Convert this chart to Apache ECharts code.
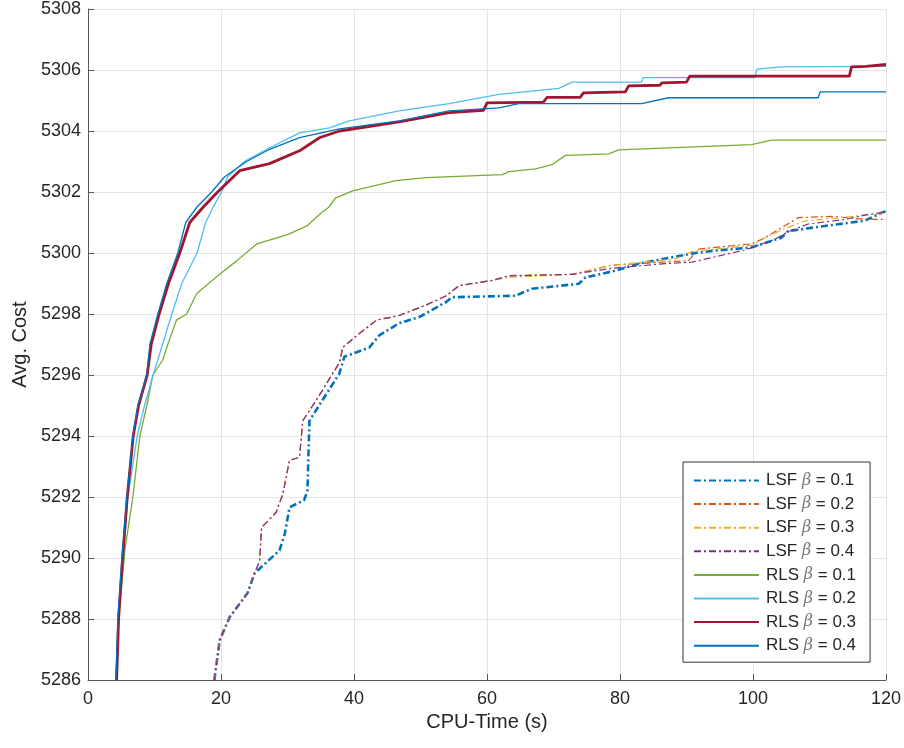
<!DOCTYPE html>
<html>
<head>
<meta charset="utf-8">
<script src="https://cdn.jsdelivr.net/npm/echarts@6/dist/echarts.min.js"></script>
<style>html,body{margin:0;padding:0;background:#fff}#c{width:904px;height:748px}</style>
</head>
<body>
<div id="c"></div>
<script>
// ---- Data ----
const seriesNames = ['LSF β = 0.1','LSF β = 0.2','LSF β = 0.3','LSF β = 0.4','RLS β = 0.1','RLS β = 0.2','RLS β = 0.3','RLS β = 0.4'];
const xTicks = [0,20,40,60,80,100,120];
const yTicks = [5286,5288,5290,5292,5294,5296,5298,5300,5302,5304,5306,5308];

const lsf1X = [19.0,19.8,21.3,24.0,25.05,28.8,29.6,30.3,32.5,33.0,33.3,37.8,38.55,42.3,43.8,46.8,49.8,52.3,53.9,54.75,64.3,66.75,73.8,74.8,79.3,82.8,90.75,94.3,99.75,104.25,105.3,111.3,116.8,120];
const lsf1Y = [5286,5287.3,5288.06,5288.85,5289.5,5290.25,5290.8,5291.66,5291.9,5292.2,5294.5,5296.05,5296.6,5296.9,5297.3,5297.7,5297.9,5298.2,5298.4,5298.55,5298.6,5298.83,5298.99,5299.2,5299.42,5299.65,5299.98,5300.08,5300.18,5300.5,5300.72,5300.9,5301.06,5301.38];

const lsf2X = [19.0,19.8,21.3,24.0,25.05,25.8,26.1,28.3,29.3,30.3,31.8,32.3,34.4,37.8,38.3,40.8,43.4,46.8,50.9,53.9,55.8,60.8,63.3,72.8,78.8,90.3,91.8,99.8,101.8,104.3,106.8,111.8,117,120];
const lsf2Y = [5286,5287.3,5288.06,5288.85,5289.5,5289.9,5291.0,5291.5,5292.1,5293.2,5293.3,5294.5,5295.2,5296.4,5296.9,5297.36,5297.8,5297.95,5298.3,5298.6,5298.93,5299.1,5299.26,5299.3,5299.6,5299.75,5300.13,5300.3,5300.5,5300.83,5301.16,5301.2,5301.1,5301.1];

const lsf3X = [19.0,19.8,21.3,24.0,25.05,25.8,26.1,28.3,29.3,30.3,31.8,32.3,34.4,37.8,38.3,40.8,43.4,46.8,50.9,53.9,55.8,60.8,63.3,72.8,78.8,88.3,90.8,99.8,102.3,104.8,107.8,112.8,117,120];
const lsf3Y = [5286,5287.3,5288.06,5288.85,5289.5,5289.9,5291.0,5291.5,5292.1,5293.2,5293.3,5294.5,5295.2,5296.4,5296.9,5297.36,5297.8,5297.95,5298.3,5298.6,5298.93,5299.1,5299.2,5299.3,5299.6,5299.8,5300.05,5300.25,5300.55,5300.8,5301.05,5301.15,5301.25,5301.3];

const lsf4X = [19.0,19.8,21.3,24.0,25.05,25.8,26.1,28.3,29.3,30.3,31.8,32.3,34.4,37.8,38.3,40.8,43.4,46.8,50.9,53.9,55.8,60.8,63.3,72.8,78.8,86.8,90.8,98.8,103.3,105.3,108.3,113.8,117,120];
const lsf4Y = [5286,5287.3,5288.06,5288.85,5289.5,5289.9,5291.0,5291.5,5292.1,5293.2,5293.3,5294.5,5295.2,5296.4,5296.9,5297.36,5297.8,5297.95,5298.3,5298.6,5298.93,5299.1,5299.25,5299.3,5299.5,5299.65,5299.7,5300.1,5300.45,5300.7,5300.95,5301.1,5301.25,5301.35];

const rls1X = [4.2,4.6,5.6,6.75,7.8,8.85,9.75,11.25,12.0,13.3,14.85,16.35,19.8,22.4,25.4,30.0,33.0,35.0,36.2,37.2,39.8,46.3,50.8,62.3,63.3,67.3,69.8,71.8,78.3,79.8,99.8,102.8,120];
const rls1Y = [5286,5288,5290.35,5292,5294,5295,5296,5296.5,5297,5297.8,5298.0,5298.67,5299.3,5299.75,5300.3,5300.6,5300.9,5301.3,5301.5,5301.8,5302.04,5302.37,5302.47,5302.57,5302.67,5302.76,5302.9,5303.2,5303.25,5303.38,5303.55,5303.7,5303.7];

const rls2X = [4.2,4.6,5.3,6.0,7.4,8.5,9.8,11.2,12.6,14.1,16.4,17.7,18.8,20.1,21.0,23.5,27.3,31.8,36.3,39.3,46.8,54.3,61.8,70.8,72.8,83.2,83.5,100.3,100.6,104.3,120];
const rls2Y = [5286,5288,5290,5292,5294,5295,5296,5297,5298,5299,5300,5301,5301.5,5302,5302.5,5303,5303.45,5303.94,5304.1,5304.33,5304.66,5304.9,5305.2,5305.4,5305.6,5305.6,5305.75,5305.75,5306.03,5306.1,5306.12];

const rls3X = [4.3,4.6,5.2,5.9,6.8,7.6,8.9,9.5,10.7,12.1,13.8,15.3,17.3,19.5,22.8,27.3,31.8,34.8,37.8,46.8,54.3,59.5,60.0,68.5,69.0,74.0,74.5,80.8,81.3,86.0,86.3,90.0,90.5,114.5,114.8,117,120];
const rls3Y = [5286,5288,5290,5292,5294,5295,5296,5297,5298,5299,5300,5301,5301.5,5302,5302.7,5302.93,5303.35,5303.78,5304.0,5304.3,5304.6,5304.68,5304.92,5304.95,5305.1,5305.1,5305.25,5305.28,5305.48,5305.5,5305.58,5305.6,5305.8,5305.8,5306.1,5306.12,5306.18];

const rls4X = [4.2,4.5,5.1,5.85,6.75,7.5,8.85,9.3,10.5,11.85,13.5,14.7,16.35,18.6,20.55,23.85,27.3,31.8,37.8,46.8,54.3,61.8,64.8,83.25,87.3,109.8,110.1,120];
const rls4Y = [5286,5288.06,5290,5292,5294,5295,5296,5297,5298,5299,5300,5301,5301.5,5302,5302.5,5303,5303.4,5303.78,5304.07,5304.33,5304.66,5304.76,5304.9,5304.9,5305.09,5305.09,5305.28,5305.28];

// ---- Build ----
const allX = [lsf1X,lsf2X,lsf3X,lsf4X,rls1X,rls2X,rls3X,rls4X];
const allY = [lsf1Y,lsf2Y,lsf3Y,lsf4Y,rls1Y,rls2Y,rls3Y,rls4Y];
const colors = ['#0072BD','#D95319','#EDB120','#7E2F8E','#77AC30','#4DBEEE','#A2142F','#0072BD'];
const widths = [2.6,1.2,1.2,1.2,1.3,1.3,2.8,1.3];
const dashes = [[7,3,2,3],[7,3,2,3],[7,3,2,3],[7,3,2,3],'solid','solid','solid','solid'];

const series = seriesNames.map((n,i)=>({
  name:n, type:'line', symbol:'none', showSymbol:false, animation:false,
  data: allX[i].map((x,k)=>[x, allY[i][k]]),
  lineStyle:{color:colors[i], width:widths[i], type:dashes[i]},
  itemStyle:{color:colors[i]},
  z: i+2
}));

const FONT = 'Liberation Sans, Arial, Helvetica, sans-serif';
const chart = echarts.init(document.getElementById('c'), null, {renderer:'canvas'});
chart.setOption({
  backgroundColor:'#ffffff',
  animation:false,
  grid:{left:88, right:16, top:8, bottom:68, containLabel:false},
  xAxis:{
    type:'value', min:xTicks[0], max:xTicks[xTicks.length-1], interval:20,
    name:'CPU-Time (s)', nameLocation:'middle', nameGap:30,
    nameTextStyle:{fontFamily:FONT, fontSize:20, color:'#262626'},
    axisLine:{show:true, onZero:false, lineStyle:{color:'#555', width:1}},
    axisTick:{show:true, inside:true, length:6, lineStyle:{color:'#555'}},
    axisLabel:{fontFamily:FONT, fontSize:18, color:'#262626', margin:10},
    splitLine:{show:true, lineStyle:{color:'#e4e4e4', width:1}}
  },
  yAxis:{
    type:'value', min:yTicks[0], max:yTicks[yTicks.length-1], interval:2,
    name:'Avg. Cost', nameLocation:'middle', nameGap:56, nameRotate:90,
    nameTextStyle:{fontFamily:FONT, fontSize:20, color:'#262626'},
    axisLine:{show:true, lineStyle:{color:'#555', width:1}},
    axisTick:{show:true, inside:true, length:6, lineStyle:{color:'#555'}},
    axisLabel:{fontFamily:FONT, fontSize:18, color:'#262626', margin:7, formatter: v => String(v)},
    splitLine:{show:true, lineStyle:{color:'#e4e4e4', width:1}}
  },
  legend:{
    orient:'vertical', left:683, top:462,
    data:seriesNames,
    itemWidth:65, itemHeight:14, itemGap:6.6,
    padding:[10,14,8,10],
    backgroundColor:'#ffffff', borderColor:'#333', borderWidth:1,
    selectedMode:false,
    itemStyle:{color:'transparent', borderColor:'transparent', borderWidth:0, opacity:0},
    formatter: n => n.replace('β','{b|β}'),
    textStyle:{fontFamily:FONT, fontSize:17, lineHeight:14, color:'#262626', padding:[0,0,0,2],
      rich:{b:{fontFamily:'DejaVu Serif, Liberation Serif, serif', fontStyle:'italic', fontSize:16, lineHeight:14, color:'#777'}}}
  },
  series
});
</script>
</body>
</html>
